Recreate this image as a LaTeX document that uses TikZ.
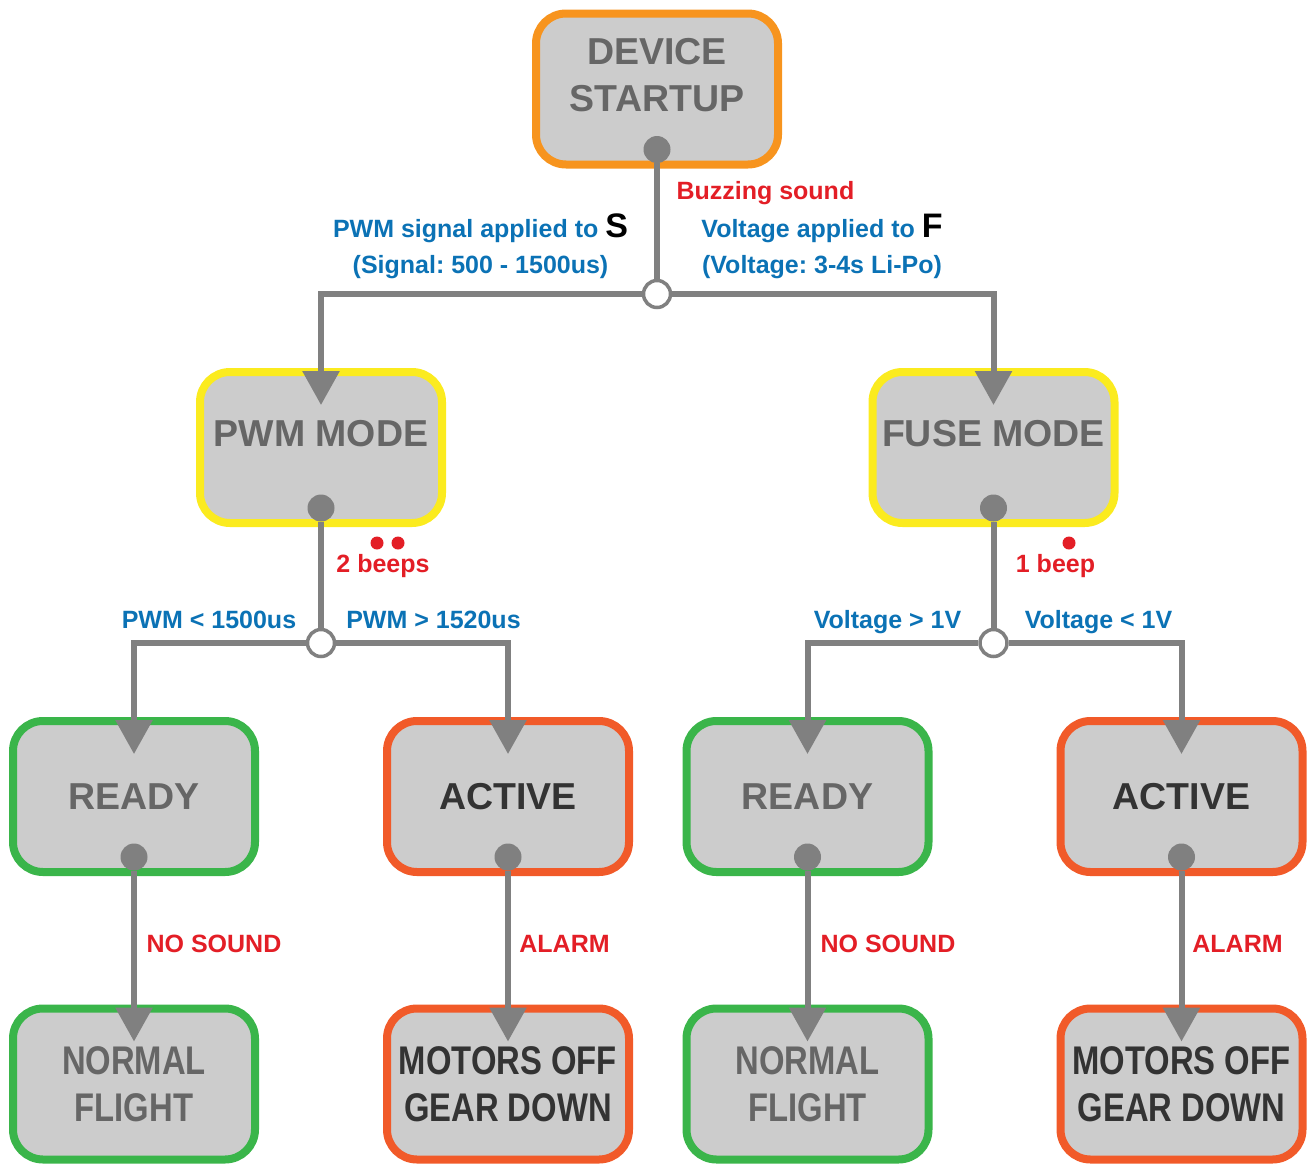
\documentclass[tikz,border=0pt]{standalone}
\usepackage{graphicx}
\usepackage{fontspec}
\setmainfont{Liberation Sans}
\usetikzlibrary{positioning, calc, arrows.meta}
\frenchspacing

\definecolor{boxfill}{HTML}{CCCCCC}
\definecolor{linegray}{HTML}{808080}
\definecolor{txtgray}{HTML}{666666}
\definecolor{txtdark}{HTML}{333333}
\definecolor{startorange}{HTML}{F7941E}
\definecolor{modeyellow}{HTML}{FBEB1F}
\definecolor{readygreen}{HTML}{3AB54A}
\definecolor{activered}{HTML}{F15A29}
\definecolor{soundred}{HTML}{E31E26}
\definecolor{condblue}{HTML}{0B72B5}

% narrow caps for the two-line result boxes
\newcommand{\narrowcaps}[1]{\scalebox{0.82}[1]{#1}}

\tikzset{
  state/.style={draw, rounded corners=30pt, line width=8pt, fill=boxfill,
    minimum width=242pt, minimum height=151pt, inner sep=0pt, outer sep=0pt,
    align=center, text=txtgray, font=\bfseries\fontsize{37.5}{47}\selectfont},
  raised/.style={text depth=28pt},
  result/.style={state, font=\bfseries\fontsize{40}{47}\selectfont},
  dot/.style={circle, fill=linegray, minimum size=27pt, inner sep=0pt},
  junction/.style={circle, draw=linegray, line width=3.5pt, fill=white,
    minimum size=27pt, inner sep=0pt},
  beepdot/.style={circle, fill=soundred, minimum size=13pt, inner sep=0pt},
  link/.style={draw=linegray, line width=6pt},
  flow/.style={-{Triangle[width=36pt,length=34pt]}},
  cond/.style={text=condblue, font=\bfseries\fontsize{25}{36}\selectfont},
  sound/.style={text=soundred, font=\bfseries\fontsize{25}{36}\selectfont},
}

\begin{document}
\begin{tikzpicture}[x=1pt, y=-1pt]
  \useasboundingbox (0,0) rectangle (1315,1165);

  % state boxes
  \node[state, raised, draw=startorange] (start) at (657,89) {DEVICE\\STARTUP};
  \node[state, raised, draw=modeyellow] (pwm) at (321,447.5) {PWM MODE};
  \node[state, raised, draw=modeyellow] (fuse) at (993.5,447.5) {FUSE MODE};

  \node[state, draw=readygreen] (pready) at (134,796.5) {READY};
  \node[state, draw=activered, text=txtdark] (pactive) at (508,796.5) {ACTIVE};
  \node[state, draw=readygreen] (fready) at (807.5,796.5) {READY};
  \node[state, draw=activered, text=txtdark] (factive) at (1181.5,796.5) {ACTIVE};

  \node[result, draw=readygreen] (pflight) [below=136.5pt of pready]
    {\narrowcaps{NORMAL}\\\narrowcaps{FLIGHT}};
  \node[result, draw=activered, text=txtdark] (pdown) [below=136.5pt of pactive]
    {\narrowcaps{MOTORS OFF}\\\narrowcaps{GEAR DOWN}};
  \node[result, draw=readygreen] (fflight) [below=136.5pt of fready]
    {\narrowcaps{NORMAL}\\\narrowcaps{FLIGHT}};
  \node[result, draw=activered, text=txtdark] (fdown) [below=136.5pt of factive]
    {\narrowcaps{MOTORS OFF}\\\narrowcaps{GEAR DOWN}};

  % outlets and branch points
  \foreach \b in {start, pwm, fuse, pready, pactive, fready, factive}
    \node[dot] (\b dot) at ($(\b.south)+(0,-15)$) {};
  \node[junction] (j1) at (657,294) {};
  \node[junction] (j2) at (pwm |- 0,643) {};
  \node[junction] (j3) at (fuse |- 0,643) {};

  % arrow ends inside the boxes
  \foreach \b in {pwm, fuse, pready, pactive, fready, factive, pflight, pdown, fflight, fdown}
    \coordinate (\b in) at ($(\b.north)+(0,33)$);

  \draw[link] (startdot) -- (j1);
  \draw[link, flow] (j1) -| (pwmin);
  \draw[link, flow] (j1) -| (fusein);
  \draw[link] (pwmdot) -- (j2);
  \draw[link, flow] (j2) -| (preadyin);
  \draw[link, flow] (j2) -| (pactivein);
  \draw[link] (fusedot) -- (j3);
  \draw[link, flow] (j3) -| (freadyin);
  \draw[link, flow] (j3) -| (factivein);
  \foreach \i/\j in {pready/pflight, pactive/pdown, fready/fflight, factive/fdown}
    \draw[link, flow] (\i dot) -- (\j in);

  % conditions and sounds
  \node[sound, anchor=base west] (buzz) at (673,199) {Buzzing sound};
  \node[cond, anchor=base] (sigtop) at (480.5,237)
    {PWM signal applied to \textcolor{black}{\fontsize{34}{36}\selectfont S}};
  \node[cond, anchor=base] (sigbot) at (480.5,273) {(Signal: 500 - 1500us)};
  \node[cond, anchor=base] (volttop) at (822,237)
    {Voltage applied to \textcolor{black}{\fontsize{34}{36}\selectfont F}};
  \node[cond, anchor=base] (voltbot) at (822,273) {(Voltage: 3-4s Li-Po)};

  \node[sound, anchor=base] (twobeeps) at (383,572) {2 beeps};
  \node[beepdot] (b1) at (377,543) {};
  \node[beepdot] (b2) at (398,543) {};
  \node[sound, anchor=base] (onebeep) at (1055.5,572) {1 beep};
  \node[beepdot] (b3) at (1069,543) {};

  \node[cond, anchor=base] (pwmlow) at (209,628) {PWM < 1500us};
  \node[cond, anchor=base] (pwmhigh) at (433.5,628) {PWM > 1520us};
  \node[cond, anchor=base] (volthigh) at (887.5,628) {Voltage > 1V};
  \node[cond, anchor=base] (voltlow) at (1098.5,628) {Voltage < 1V};

  \node[sound, anchor=base] (quiet1) at (214,952) {NO SOUND};
  \node[sound, anchor=base] (alarm1) at (564.5,952) {ALARM};
  \node[sound, anchor=base] (quiet2) at (888,952) {NO SOUND};
  \node[sound, anchor=base] (alarm2) at (1237.5,952) {ALARM};
\end{tikzpicture}
\end{document}
